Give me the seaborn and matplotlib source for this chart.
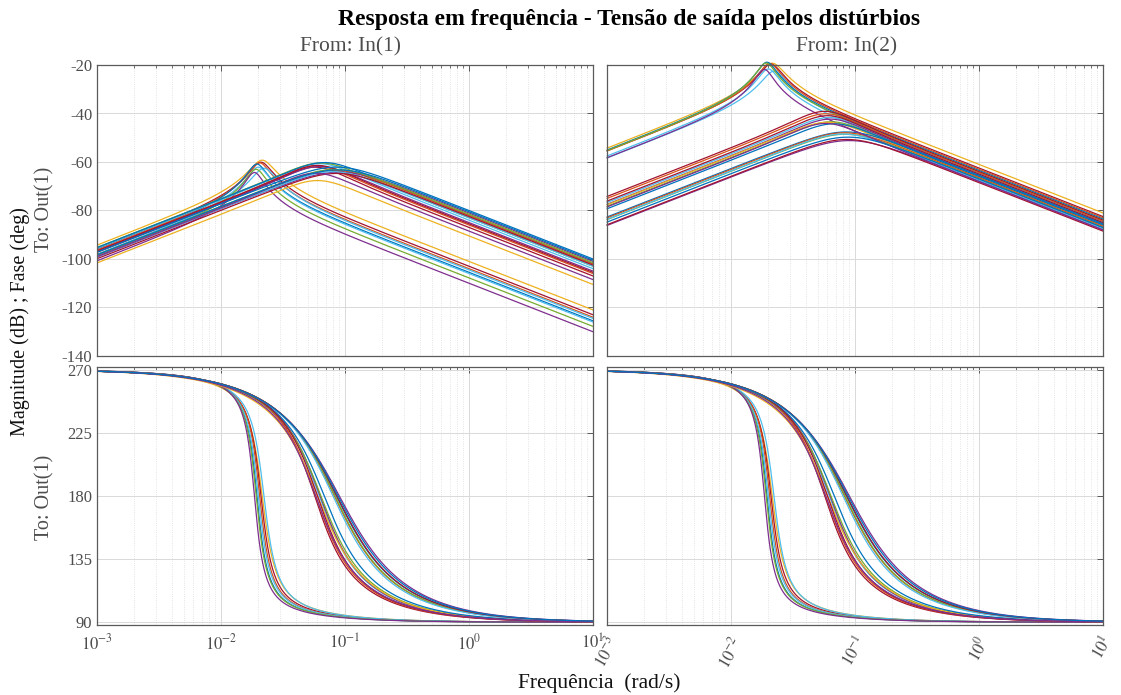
import numpy as np
import pandas as pd
import matplotlib
matplotlib.use("Agg")
import matplotlib.pyplot as plt
import seaborn as sns
from matplotlib.ticker import FixedLocator, LogLocator, NullFormatter, FuncFormatter

# ---- data (one entry per plotted system) ----
# natural frequency (rad/s), damping, high-frequency magnitude at 10 rad/s (dB) for In(1) and In(2)
wn = [0.0215, 0.0210, 0.0205, 0.0222, 0.0195, 0.0200, 0.0192, 0.0186,
      0.0570, 0.0580, 0.0620, 0.0630, 0.0640, 0.0600, 0.0680, 0.0600,
      0.0850, 0.0820, 0.0900, 0.0830, 0.0800, 0.0860, 0.0580, 0.0880]
zeta = [0.19, 0.17, 0.16, 0.18, 0.15, 0.16, 0.15, 0.14,
        0.50, 0.52, 0.55, 0.55, 0.58, 0.60, 0.60, 0.52,
        0.75, 0.72, 0.80, 0.72, 0.70, 0.75, 0.55, 0.78]
hf_in1_db = [-121.0, -123.0, -124.0, -124.5, -125.5, -126.0, -127.8, -130.0,
             -107.0, -106.0, -104.0, -105.0, -103.0, -110.5, -102.0, -105.5,
             -100.0, -102.0, -101.0, -101.5, -103.0, -102.5, -108.5, -100.5]
hf_in2_db = [-81.0, -82.5, -83.0, -84.5, -83.5, -85.5, -84.0, -87.5,
             -84.0, -84.5, -85.0, -85.5, -86.0, -86.5, -86.0, -85.0,
             -85.5, -86.5, -88.0, -87.0, -87.5, -88.5, -88.0, -87.0]
colors = ['#EDB120', '#A2142F', '#D95319', '#4DBEEE', '#0072BD', '#4DBEEE', '#77AC30', '#7E2F8E',
          '#A2142F', '#D95319', '#4DBEEE', '#7E2F8E', '#77AC30', '#EDB120', '#0072BD', '#A2142F',
          '#0072BD', '#D95319', '#7E2F8E', '#77AC30', '#4DBEEE', '#A2142F', '#7E2F8E', '#0072BD']

col_titles = ["From: In(1)", "From: In(2)"]
row_label = "To: Out(1)"
mag_ticks = [-140, -120, -100, -80, -60, -40, -20]
phase_ticks = [90, 135, 180, 225, 270]
freq_ticks = [1e-3, 1e-2, 1e-1, 1e0, 1e1]

# ---- frequency response of  -K s / (s^2 + 2 zeta wn s + wn^2) ----
w = np.logspace(-3, 1, 800)
rows = []
for i in range(len(wn)):
    s = 1j * w
    den = s**2 + 2 * zeta[i] * wn[i] * s + wn[i]**2
    phase = 270.0 - np.degrees(np.angle(den))
    for inp, hf in ((0, hf_in1_db[i]), (1, hf_in2_db[i])):
        K = 10.0 * 10 ** (hf / 20.0)
        mag = 20 * np.log10(np.abs(K * s / den))
        rows.append(pd.DataFrame({"w": w, "mag": mag, "phase": phase,
                                  "sys": f"s{i:02d}", "inp": inp}))
df = pd.concat(rows, ignore_index=True)
palette = {f"s{i:02d}": colors[i] for i in range(len(wn))}

sns.set_theme(style="white")
plt.rcParams['font.family'] = ['Liberation Serif', 'DejaVu Serif']
plt.rcParams['mathtext.fontset'] = 'stix'
plt.rcParams['axes.unicode_minus'] = False

fig = plt.figure(figsize=(11.21, 6.95), dpi=100)
W, H = 1121.0, 695.0
def box(x0, y0, x1, y1):
    return [x0 / W, 1 - y1 / H, (x1 - x0) / W, (y1 - y0) / H]

axes = [[fig.add_axes(box(97, 65, 593, 356)), fig.add_axes(box(607, 65, 1103, 356))],
        [fig.add_axes(box(97, 367, 593, 625)), fig.add_axes(box(607, 367, 1103, 625))]]

tick_gray = '#4d4d4d'
spine_gray = '#5a5a5a'

def fmt_pow(v, pos):
    return r"$10^{%d}$" % int(round(np.log10(v)))

for c in range(2):
    sub = df[df["inp"] == c]
    for r, ycol in enumerate(["mag", "phase"]):
        ax = axes[r][c]
        sns.lineplot(data=sub, x="w", y=ycol, hue="sys", palette=palette, ax=ax,
                     legend=False, estimator=None, sort=False, linewidth=0.9)
        if r == 0 and c == 1:
            for ln in ax.lines:
                ln.set_clip_on(False)
        ax.set_xscale("log")
        ax.set_xlim(1e-3, 1e1)
        if r == 0:
            ax.set_ylim(-140, -20)
            ax.yaxis.set_major_locator(FixedLocator(mag_ticks))
        else:
            ax.set_ylim(88, 272)
            ax.yaxis.set_major_locator(FixedLocator(phase_ticks))
        ax.xaxis.set_major_locator(FixedLocator(freq_ticks))
        ax.xaxis.set_minor_locator(LogLocator(base=10, subs=np.arange(2, 10), numticks=50))
        ax.xaxis.set_minor_formatter(NullFormatter())
        ax.grid(True, which="major", color="#d9d9d9", linewidth=0.7, linestyle="-")
        ax.grid(True, which="minor", axis="x", color="#dcdcdc", linewidth=0.6, linestyle=":")
        ax.set_axisbelow(True)
        ax.tick_params(which="both", direction="in", top=True, right=True,
                       color=spine_gray, labelcolor=tick_gray, labelsize=12)
        ax.tick_params(which="major", length=4, width=0.7)
        ax.tick_params(which="minor", length=2.5, width=0.6)
        for sp in ax.spines.values():
            sp.set_color(spine_gray)
            sp.set_linewidth(0.9)
        ax.set_xlabel("")
        ax.set_ylabel("")
        if c == 1:
            ax.set_yticklabels([])
        if r == 0:
            ax.set_xticklabels([])
        else:
            ax.xaxis.set_major_formatter(FuncFormatter(fmt_pow))
            if c == 1:
                for lab in ax.get_xticklabels():
                    lab.set_rotation(60)
                    lab.set_ha("center")
                    lab.set_va("top")
        ax.tick_params(axis="x", pad=6)

# column titles, row labels, overall labels
fig.text(351 / W, 1 - 47 / H, col_titles[0], ha="center", va="center", fontsize=15.5, color=tick_gray)
fig.text(847 / W, 1 - 47 / H, col_titles[1], ha="center", va="center", fontsize=15.5, color=tick_gray)
fig.text(45 / W, 1 - 209 / H, row_label, ha="center", va="center", rotation=90, fontsize=14.5, color=tick_gray)
fig.text(45 / W, 1 - 497 / H, row_label, ha="center", va="center", rotation=90, fontsize=14.5, color=tick_gray)
fig.text(20 / W, 1 - 322 / H, "Magnitude (dB) ; Fase (deg)", ha="center", va="center",
         rotation=90, fontsize=14.5, color="#111111")
fig.text(599 / W, 1 - 683 / H, "Frequência  (rad/s)", ha="center", va="center",
         fontsize=15.5, color="#111111")
fig.text(629 / W, 1 - 19 / H, "Resposta em frequência - Tensão de saída pelos distúrbios",
         ha="center", va="center", fontsize=17, fontweight="bold", color="black")

fig.savefig("out.png", dpi=100)
